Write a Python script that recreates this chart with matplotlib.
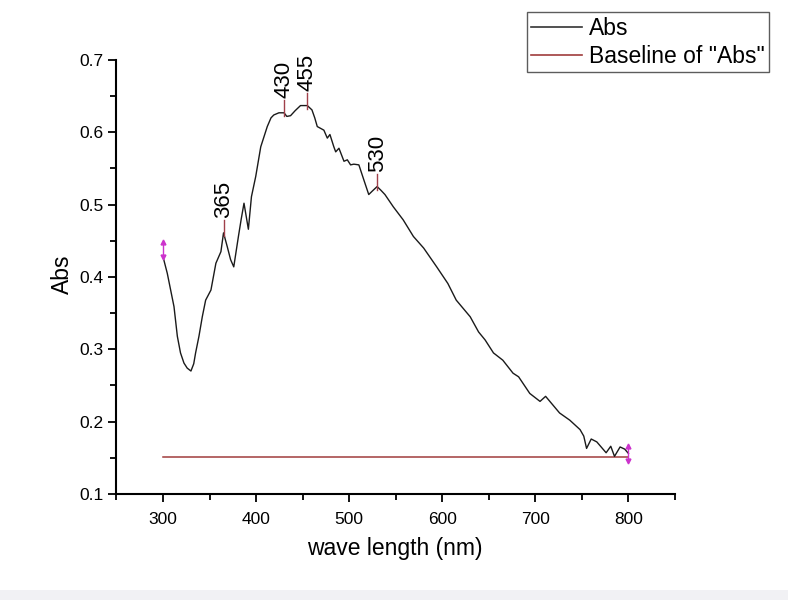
import matplotlib
matplotlib.use("Agg")
import matplotlib.pyplot as plt
from matplotlib.lines import Line2D
from matplotlib.patches import Rectangle

plt.rcParams['font.family'] = ['Liberation Sans', 'DejaVu Sans']

# Absorbance spectrum
wavelength = [300, 304.6, 308.2, 311.8, 315.4, 318.8, 322.5, 326, 330, 333, 335, 338.6,
              342.2, 345.8, 351.5, 356.8, 362.2, 365, 369, 372.6, 376, 381, 384, 387,
              391.7, 395, 399.6, 405, 412, 416, 419, 424.5, 430, 433, 437, 442, 447.7,
              455, 460, 463, 465.7, 472.8, 476.5, 479.3, 483.5, 485.5, 489, 494.4, 498,
              501.5, 505, 510.4, 515.8, 521, 525, 530, 534, 538.4, 547.4, 558, 569, 580,
              594, 606, 615, 630, 639, 646, 655, 665, 676, 682, 694, 705, 711, 726, 737,
              748, 752, 755, 760, 766, 776, 781, 785, 791, 796, 800]
absorbance = [0.428, 0.405, 0.382, 0.359, 0.318, 0.295, 0.281, 0.274, 0.270, 0.280, 0.295,
              0.318, 0.345, 0.368, 0.382, 0.419, 0.435, 0.461, 0.442, 0.424, 0.414, 0.456,
              0.480, 0.502, 0.466, 0.511, 0.539, 0.580, 0.608, 0.620, 0.624, 0.627, 0.627,
              0.622, 0.623, 0.630, 0.637, 0.637, 0.631, 0.620, 0.608, 0.603, 0.592, 0.597,
              0.580, 0.573, 0.578, 0.560, 0.562, 0.555, 0.556, 0.555, 0.534, 0.514, 0.519,
              0.525, 0.520, 0.514, 0.497, 0.479, 0.456, 0.440, 0.414, 0.391, 0.368, 0.345,
              0.324, 0.313, 0.295, 0.285, 0.267, 0.262, 0.239, 0.228, 0.235, 0.212, 0.202,
              0.189, 0.180, 0.163, 0.176, 0.172, 0.157, 0.166, 0.152, 0.165, 0.162, 0.156]

baseline_x = [300, 800]
baseline_y = [0.151, 0.151]

peak_x = [365, 430, 455, 530]
peak_y = [0.461, 0.627, 0.637, 0.525]
peak_labels = ["365", "430", "455", "530"]

end_x = [300, 800]
end_lo = [0.428, 0.145]
end_hi = [0.448, 0.166]

x_ticks = [300, 400, 500, 600, 700, 800]
y_ticks = [0.1, 0.2, 0.3, 0.4, 0.5, 0.6, 0.7]

fig = plt.figure(figsize=(7.88, 6.0), dpi=100)
ax = fig.add_axes([0.1478, 0.1767, 0.7088, 0.7233])

curve_col = '#1a1a1a'
base_col = '#a03c3c'
peak_col = '#a0404a'
mag = '#cc33cc'

ax.plot(baseline_x, baseline_y, color=base_col, lw=1.1)
ax.plot(wavelength, absorbance, color=curve_col, lw=1.0)

for px, py, lab in zip(peak_x, peak_y, peak_labels):
    ax.plot([px, px], [py - 0.005, py + 0.018], color=peak_col, lw=1.0)
    ax.text(px, py + 0.02, lab, rotation=90, ha='center', va='bottom',
            fontsize=16, color='black', clip_on=False)

for ex, lo, hi in zip(end_x, end_lo, end_hi):
    ax.plot([ex, ex], [lo, hi], color=mag, lw=1.0, clip_on=False)
    ax.plot([ex], [hi], marker='^', color=mag, ms=3.5, clip_on=False)
    ax.plot([ex], [lo], marker='v', color=mag, ms=3.5, clip_on=False)

ax.set_xlim(250, 850)
ax.set_ylim(0.1, 0.7)
ax.set_xticks(x_ticks)
ax.set_xticklabels([str(t) for t in x_ticks])
ax.set_xticks([250, 350, 450, 550, 650, 750, 850], minor=True)
ax.set_yticks(y_ticks)
ax.set_yticklabels([f"{t:.1f}" for t in y_ticks])
ax.set_yticks([0.15, 0.25, 0.35, 0.45, 0.55, 0.65], minor=True)

for s in ['top', 'right']:
    ax.spines[s].set_visible(False)
for s in ['left', 'bottom']:
    ax.spines[s].set_linewidth(1.5)

ax.tick_params(axis='both', which='major', direction='out', length=6, width=1.3,
               labelsize=12.5)
ax.tick_params(axis='both', which='minor', direction='out', length=4, width=1.3)
ax.tick_params(axis='x', which='major', pad=7)
ax.tick_params(axis='y', which='major', pad=3)

fig.text(62 / 788, 1 - 274 / 600, 'Abs', rotation=90, ha='center', va='center',
         fontsize=16.5)
fig.text(395 / 788, 1 - 549 / 600, 'wave length (nm)', ha='center', va='center',
         fontsize=16.5)

handles = [Line2D([], [], color='#333333', lw=1.2),
           Line2D([], [], color=base_col, lw=1.2)]
leg = fig.legend(handles, ['Abs', 'Baseline of "Abs"'], loc='upper right',
                 bbox_to_anchor=(769 / 788, 1 - 12 / 600), borderaxespad=0,
                 fontsize=16.5, frameon=True, fancybox=False, handlelength=2.2,
                 handletextpad=0.3, labelspacing=0.22, borderpad=0.2)
leg.get_frame().set_edgecolor('#333333')
leg.get_frame().set_linewidth(1.0)

fig.patches.append(Rectangle((0, 0), 1, 10 / 600, transform=fig.transFigure,
                             facecolor='#f1f1f4', edgecolor='none'))

fig.savefig('out.png', dpi=100)
